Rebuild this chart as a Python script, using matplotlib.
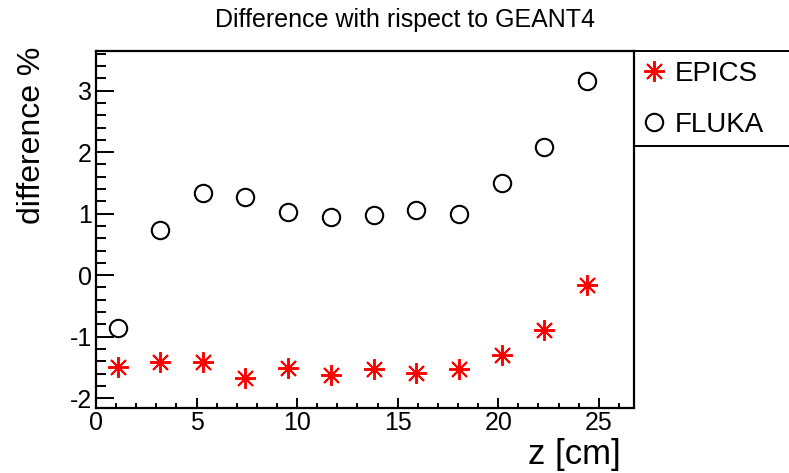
import matplotlib
matplotlib.use('Agg')
import matplotlib.pyplot as plt
from matplotlib.patches import Rectangle
from matplotlib.ticker import MultipleLocator

plt.rcParams['font.family'] = ['Liberation Sans', 'DejaVu Sans']
plt.rcParams['axes.unicode_minus'] = False

# depth positions along the beam [cm]
z = [1.07, 3.2, 5.3, 7.43, 9.55, 11.67, 13.8, 15.92, 18.05, 20.17, 22.3, 24.42]
# difference w.r.t. GEANT4 [%]
epics = [-1.49, -1.42, -1.41, -1.67, -1.51, -1.63, -1.53, -1.585, -1.53, -1.30, -0.89, -0.16]
fluka = [-0.865, 0.73, 1.33, 1.27, 1.03, 0.95, 0.985, 1.055, 1.00, 1.50, 2.08, 3.15]

fig = plt.figure(figsize=(7.89, 4.73), dpi=100)
ax = fig.add_axes([0.1217, 0.1374, 0.6818, 0.7548])

ax.plot(z, epics, ls='none', marker=(8, 2, 0), ms=15, mew=1.4, color='red', label='EPICS')
ax.plot(z, fluka, ls='none', marker='o', ms=12.5, mew=1.5, mfc='none', mec='black', label='FLUKA')

ax.set_xlim(0, 26.75)
ax.set_ylim(-2.16, 3.645)
ax.xaxis.set_major_locator(MultipleLocator(5))
ax.xaxis.set_minor_locator(MultipleLocator(1))
ax.yaxis.set_major_locator(MultipleLocator(1))
ax.yaxis.set_minor_locator(MultipleLocator(0.2))

for s in ax.spines.values():
    s.set_linewidth(1.6)
ax.tick_params(axis='both', which='both', direction='in', top=False, right=False, labelsize=18)
ax.tick_params(axis='y', which='major', length=13, width=1.4, pad=3)
ax.tick_params(axis='y', which='minor', length=7, width=1.4)
ax.tick_params(axis='x', which='major', length=7, width=1.4, pad=2)
ax.tick_params(axis='x', which='minor', length=3.5, width=1.4)

fig.text(0.513, 1 - 20 / 473, 'Difference with rispect to GEANT4', ha='center', va='center', fontsize=18)
fig.text(32 / 789, 1 - 47 / 473, 'difference %', rotation=90, ha='center', va='top', fontsize=23)
fig.text(621 / 789, 1 - 454 / 473, 'z [cm]', ha='right', va='center', fontsize=25)

# legend frame hanging off the right edge of the pad
fig.patches.append(Rectangle((0.8035, 1 - 146 / 473), 0.25, 0.8922 - (1 - 146 / 473),
                             transform=fig.transFigure, fill=False, lw=1.4, ec='black'))
fig.legend(loc='upper left', bbox_to_anchor=(643 / 789, 1 - 61 / 473), frameon=False, fontsize=20,
           handlelength=0.8, handletextpad=0.35, labelspacing=0.9, borderpad=0,
           borderaxespad=0)

fig.savefig('out.png', dpi=100)
